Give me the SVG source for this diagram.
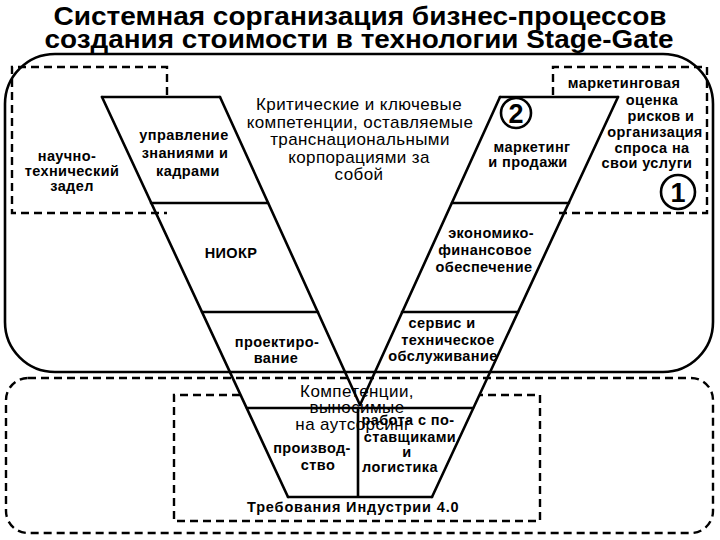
<svg xmlns="http://www.w3.org/2000/svg" width="720" height="540" viewBox="0 0 720 540">
<style>
.ln{stroke:#000;stroke-width:2.6;fill:none;stroke-linecap:round}
.ds{stroke:#000;stroke-width:2.4;fill:none;stroke-dasharray:8 5}
.b{font-family:"Liberation Sans",Arial,sans-serif;font-weight:bold;font-size:14.5px;letter-spacing:0.4px;text-anchor:middle;fill:#000}
.r{font-family:"Liberation Sans",Arial,sans-serif;font-size:17px;letter-spacing:0.4px;text-anchor:middle;fill:#000}
.t{font-family:"Liberation Sans",Arial,sans-serif;font-weight:bold;font-size:25px;text-anchor:middle;fill:#000}
.n{font-family:"Liberation Sans",Arial,sans-serif;font-weight:bold;font-size:27px;text-anchor:middle;fill:#000}
</style>
<rect width="720" height="540" fill="#fff"/>
<g id="title">
<text class="t" x="360" y="25" textLength="613" lengthAdjust="spacingAndGlyphs">Системная сорганизация бизнес-процессов</text>
<text class="t" x="359" y="48" textLength="629" lengthAdjust="spacingAndGlyphs">создания стоимости в технологии Stage-Gate</text>
</g>
<g id="frames">
<rect x="5" y="54" width="708" height="318" rx="50" class="ln"/>
<rect x="6" y="378" width="707" height="155" rx="22" class="ds"/>
<path class="ds" d="M167,95 V67 H12 V213 H167"/>
<path class="ds" d="M553,95 V67 H707 V213 H555"/>
<path class="ds" d="M240,395 H174 V521 H540 V395 H480"/>
</g>
<g id="connectors">
<path class="ln" d="M102,97 L288,497 M618,97 L432,497 M220,97 L360,405 M500,97 L360,405"/>
<path class="ln" d="M102,97 H220 M500,97 H618 M151,203 H268 M452,203 H569 M202,312 H318 M402,312 H518 M247,408 H473 M288,497 H432 M358,408 V497"/>
</g>
<g id="n-zadel">
<text class="b" x="67" y="161" font-size="14">научно-</text>
<text class="b" x="72" y="176" font-size="14">технический</text>
<text class="b" x="72" y="191" font-size="14">задел</text>
</g>
<g id="n-upravlenie">
<text class="b" x="184" y="140">управление</text>
<text class="b" x="185" y="158">знаниями и</text>
<text class="b" x="188" y="176">кадрами</text>
</g>
<g id="n-kriticheskie">
<text class="r" x="359" y="110">Критические и ключевые</text>
<text class="r" x="360" y="127.5">компетенции, оставляемые</text>
<text class="r" x="360" y="145">транснациональными</text>
<text class="r" x="359" y="163">корпорациями за</text>
<text class="r" x="359" y="180">собой</text>
</g>
<g id="n-marketing">
<circle cx="516" cy="113" r="15" class="ln"/>
<text class="n" x="516" y="123">2</text>
<text class="b" x="532" y="152">маркетинг</text>
<text class="b" x="528" y="167">и продажи</text>
</g>
<g id="n-ocenka">
<text class="b" x="624" y="88">маркетинговая</text>
<text class="b" x="652" y="105">оценка</text>
<text class="b" x="661" y="121">рисков и</text>
<text class="b" x="655" y="137">организация</text>
<text class="b" x="652" y="153">спроса на</text>
<text class="b" x="647" y="168">свои услуги</text>
<circle cx="678" cy="192" r="17" class="ln"/>
<text class="n" x="678" y="202">1</text>
</g>
<g id="n-niokr">
<text class="b" x="231" y="258" font-size="15">НИОКР</text>
</g>
<g id="n-ekonomiko">
<text class="b" x="491" y="238">экономико-</text>
<text class="b" x="485" y="255">финансовое</text>
<text class="b" x="484" y="272">обеспечение</text>
</g>
<g id="n-proektirovanie">
<text class="b" x="277" y="347">проектиро-</text>
<text class="b" x="276" y="363">вание</text>
</g>
<g id="n-servis">
<text class="b" x="442" y="328">сервис и</text>
<text class="b" x="448" y="345">техническое</text>
<text class="b" x="443" y="361">обслуживание</text>
</g>
<g id="n-autsorsing">
<text class="r" x="357" y="397">Компетенции,</text>
<text class="r" x="357" y="413">выносимые</text>
<text class="r" x="353" y="430">на аутсорсинг</text>
</g>
<g id="n-proizvodstvo">
<text class="b" x="312" y="453">производ-</text>
<text class="b" x="318" y="470">ство</text>
</g>
<g id="n-rabota">
<text class="b" x="408" y="425">работа с по-</text>
<text class="b" x="410" y="442">ставщиками</text>
<text class="b" x="407" y="457">и</text>
<text class="b" x="400" y="472">логистика</text>
</g>
<g id="n-industry">
<text class="b" x="353" y="512" font-size="14.5" textLength="212" lengthAdjust="spacing">Требования Индустрии 4.0</text>
</g>
</svg>
